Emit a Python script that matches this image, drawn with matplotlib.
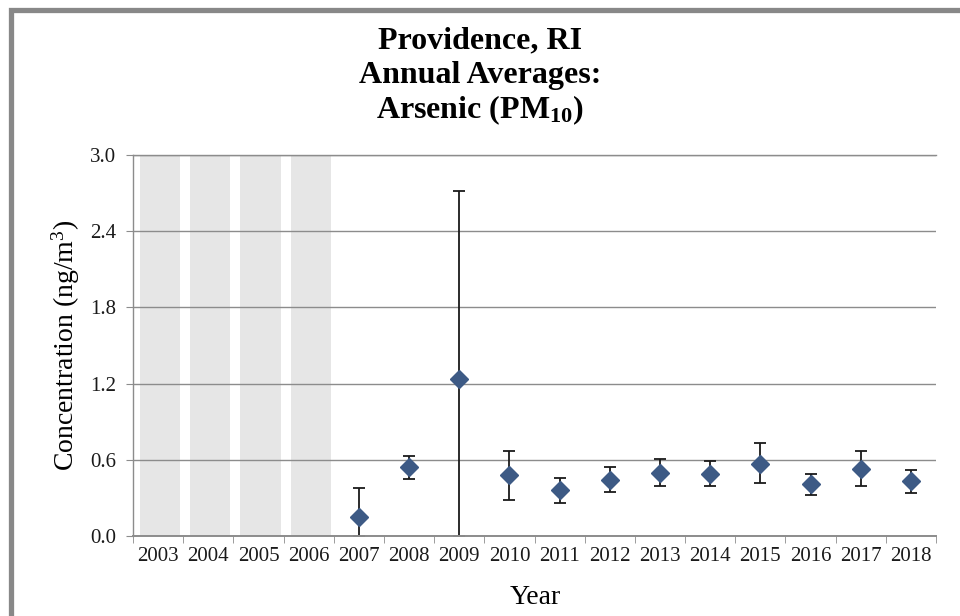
import numpy as np
import matplotlib
matplotlib.use("Agg")
import matplotlib.pyplot as plt
from matplotlib.patches import Rectangle


# Annual average arsenic (PM10) at Providence, RI, ng/m^3
YEARS = [str(y) for y in range(2003, 2019)]
NO_DATA_YEARS = ["2003", "2004", "2005", "2006"]
DATA_YEARS = ["2007", "2008", "2009", "2010", "2011", "2012",
              "2013", "2014", "2015", "2016", "2017", "2018"]
MEANS = [0.15, 0.54, 1.24, 0.48, 0.36, 0.44, 0.50, 0.49, 0.57, 0.41, 0.53, 0.43]
UPPER = [0.38, 0.63, 2.72, 0.67, 0.46, 0.54, 0.61, 0.59, 0.73, 0.49, 0.67, 0.52]
LOWER = [0.00, 0.45, 0.00, 0.28, 0.26, 0.35, 0.39, 0.39, 0.42, 0.32, 0.39, 0.34]
Y_TICKS = [0.0, 0.6, 1.2, 1.8, 2.4, 3.0]
Y_MAX = 3.0

SERIF = "Liberation Serif"
GRID_GREY = "#8c8c8c"
MARKER_BLUE = "#3d5a85"

plt.rcParams["font.family"] = [SERIF, "DejaVu Serif"]
plt.rcParams["mathtext.fontset"] = "custom"
plt.rcParams["mathtext.rm"] = SERIF
plt.rcParams["mathtext.it"] = SERIF + ":italic"
plt.rcParams["mathtext.bf"] = SERIF + ":bold"


def main() -> None:
    fig = plt.figure(figsize=(9.6, 6.16), dpi=100)
    ax = fig.add_axes([133 / 960, 1 - 536 / 616, 803 / 960, 381 / 616])

    x_all = np.arange(len(YEARS))
    idx = {y: i for i, y in enumerate(YEARS)}

    # shaded columns for years without measurements
    x_nd = [idx[y] + 0.04 for y in NO_DATA_YEARS]
    ax.bar(x_nd, [Y_MAX] * len(x_nd), width=0.8, color="#e6e6e6", zorder=0.5)

    x = np.array([idx[y] for y in DATA_YEARS])
    m = np.array(MEANS)
    yerr = [m - np.array(LOWER), np.array(UPPER) - m]
    ax.errorbar(x, m, yerr=yerr, fmt="none", ecolor="#1a1a1a", elinewidth=1.3,
                capsize=4.5, capthick=1.3, zorder=3)
    ax.plot(x, m, ls="none", marker="D", ms=9, color=MARKER_BLUE,
            mec=MARKER_BLUE, zorder=4)

    ax.set_xlim(-0.5, len(YEARS) - 0.5)
    ax.set_ylim(0, Y_MAX)

    ax.set_xticks(x_all)
    ax.set_xticklabels(YEARS)
    ax.set_xticks(np.arange(-0.5, len(YEARS)), minor=True)
    ax.tick_params(axis="x", which="major", length=0, pad=8, labelsize=15,
                   labelcolor="#1a1a1a")
    ax.tick_params(axis="x", which="minor", length=5, color=GRID_GREY,
                   direction="out")

    ax.set_yticks(Y_TICKS)
    ax.set_yticklabels([f"{v:.1f}" for v in Y_TICKS])
    ax.tick_params(axis="y", length=5, color=GRID_GREY, direction="out",
                   pad=7, labelsize=15, labelcolor="#1a1a1a")

    ax.grid(axis="y", color=GRID_GREY, lw=1.0, zorder=1)
    ax.grid(axis="x", visible=False)
    ax.set_axisbelow(False)

    for side in ("left", "bottom", "top"):
        ax.spines[side].set_color(GRID_GREY)
        ax.spines[side].set_linewidth(1.0)
    ax.spines["bottom"].set_linewidth(1.4)
    ax.spines["bottom"].set_zorder(5)
    ax.spines["right"].set_visible(False)

    # title, three centred lines
    title_kw = dict(ha="center", va="baseline", fontsize=23, fontweight="bold")
    fig.text(0.5, 1 - 48 / 616, "Providence, RI", **title_kw)
    fig.text(0.5, 1 - 83 / 616, "Annual Averages:", **title_kw)
    fig.text(0.5, 1 - 118 / 616, r"Arsenic (PM$_{\mathbf{10}}$)", **title_kw)

    fig.text(66 / 960, 1 - 345 / 616, r"Concentration (ng/m$^3$)",
             rotation=90, ha="center", va="center", fontsize=20)
    fig.text(535 / 960, 1 - 597 / 616, "Year", ha="center", va="center",
             fontsize=20)

    # grey frame around the chart
    fig.patches.append(Rectangle((10.5 / 960, -0.1), 2.0, 1 - 9.5 / 616 + 0.1,
                                 transform=fig.transFigure, fill=False,
                                 edgecolor="#888888", lw=3.8, clip_on=False))

    fig.savefig("out.png", dpi=100)


if __name__ == "__main__":
    main()
